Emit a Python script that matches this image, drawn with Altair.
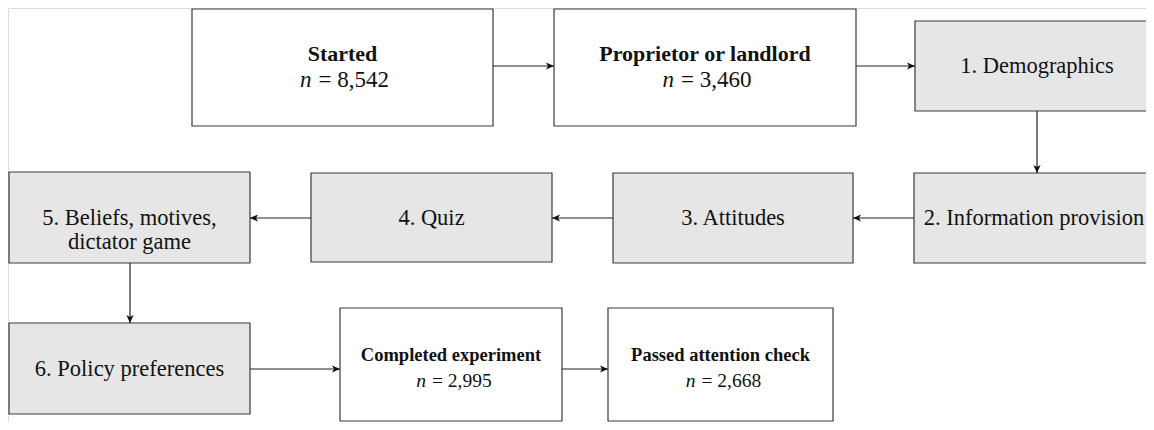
import altair as alt
import pandas as pd

# ---- content ----
labels = ["Started", "Proprietor or landlord", "1. Demographics",
          "2. Information provision", "3. Attitudes", "4. Quiz",
          "5. Beliefs, motives,\ndictator game", "6. Policy preferences",
          "Completed experiment", "Passed attention check"]
counts = ["8,542", "3,460", "", "", "", "", "", "", "2,995", "2,668"]
kinds = ["sample", "sample", "stage", "stage", "stage", "stage", "stage", "stage",
         "sample", "sample"]

# ---- layout (pixel coordinates of the page) ----
left = [192, 554, 915, 914, 613, 311, 9, 9, 340, 608]
right = [493, 856, 1160, 1160, 853, 552, 250, 250, 562, 833]
top = [9, 9, 21, 173, 173, 173, 172, 323, 308, 308]
bottom = [126, 126, 111, 263, 263, 262, 263, 414, 421, 421]
center_y = [66, 66, 66, 218, 218, 218, 218, 369, 368, 368]
center_x = [342.5, 705, 1037, 1034, 733, 431.5, 129.5, 129.5, 451, 720.5]

arrow_x = [493, 856, 1037, 914, 613, 311, 130, 250, 562]
arrow_x2 = [554, 915, 1037, 853, 552, 250, 130, 340, 608]
arrow_y = [66, 66, 111, 218, 218, 218, 263, 369, 369]
arrow_y2 = [66, 66, 173, 218, 218, 218, 323, 369, 369]

W, H = 1138, 414
X0, Y0 = 8, 8

boxes = pd.DataFrame({"label": labels, "count": counts, "kind": kinds,
                      "l": left, "r": right, "t": top, "b": bottom,
                      "cx": center_x, "cy": center_y})
boxes["eq"] = "= " + boxes["count"]

arrows = pd.DataFrame({"x": arrow_x, "x2": arrow_x2, "y": arrow_y, "y2": arrow_y2})
def ang(r):
    if r.x2 > r.x:
        return 0
    if r.x2 < r.x:
        return 180
    return 90
arrows["angle"] = arrows.apply(ang, axis=1)

xs = alt.Scale(domain=[X0, X0 + W])
ys = alt.Scale(domain=[Y0, Y0 + H], reverse=True)
def X(f): return alt.X(f, type="quantitative", scale=xs, axis=None)
def Y(f): return alt.Y(f, type="quantitative", scale=ys, axis=None)

FONT = "Liberation Serif"
INK = "#111"

base = alt.Chart(boxes)

rects = base.mark_rect(stroke="#3a3a3a", strokeWidth=1.2).encode(
    x=X("l"), x2="r", y=Y("t"), y2="b",
    fill=alt.Fill("kind:N", scale=alt.Scale(domain=["sample", "stage"],
                                            range=["#ffffff", "#e6e6e6"]), legend=None),
)

stage_text = base.transform_filter("datum.kind == 'stage'").mark_text(
    font=FONT, fontSize=22.5, color=INK, lineBreak="\n", lineHeight=24,
    align="center", baseline="middle"
).encode(x=X("cx"), y=Y("cy"), text="label:N")

def sample_layers(filt, tsize, nsize, tdy, ndy, ndx, vdx):
    sub = base.transform_filter("datum.kind == 'sample'").transform_filter(filt)
    t = sub.mark_text(font=FONT, fontSize=tsize, fontWeight="bold", color=INK,
                      align="center", baseline="middle", dy=tdy
                      ).encode(x=X("cx"), y=Y("cy"), text="label:N")
    n = sub.mark_text(font=FONT, fontSize=nsize, fontStyle="italic", color=INK,
                      align="right", baseline="middle", dx=ndx, dy=ndy
                      ).encode(x=X("cx"), y=Y("cy"), text=alt.value("n"))
    v = sub.mark_text(font=FONT, fontSize=nsize, color=INK,
                      align="left", baseline="middle", dx=vdx, dy=ndy
                      ).encode(x=X("cx"), y=Y("cy"), text="eq:N")
    return [t, n, v]

top_row = sample_layers("datum.cy < 100", 22, 23, -12, 14, -31, -24)
bottom_row = sample_layers("datum.cy > 300", 18.5, 19.5, -13, 13, -25, -19)

lines = alt.Chart(arrows).mark_rule(color="#222", strokeWidth=1.2).encode(
    x=X("x"), x2="x2", y=Y("y"), y2="y2")

heads = alt.Chart(arrows).mark_point(
    shape="M -1 -0.45 L 0 0 L -1 0.45 L -0.75 0 Z", filled=True, color=INK,
    size=256, opacity=1
).encode(x=X("x2"), y=Y("y2"), angle=alt.Angle("angle:Q", scale=None))

chart = alt.layer(rects, lines, heads, stage_text, *top_row, *bottom_row).properties(
    width=W, height=H, padding=0, autosize=alt.AutoSizeParams(type="none")
).configure_view(strokeWidth=0, clip=True).configure(background="white")

chart.save("out.html", embed_options={"renderer": "svg", "actions": False})
